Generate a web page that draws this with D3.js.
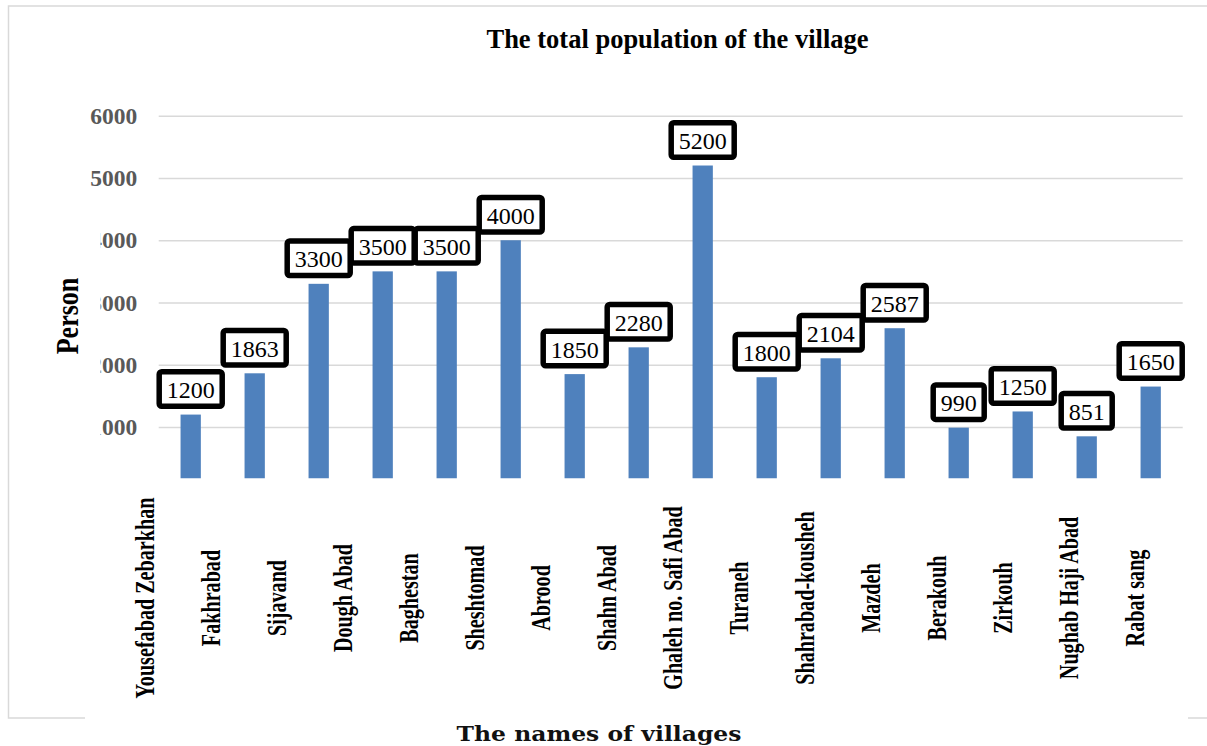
<!DOCTYPE html>
<html>
<head>
<meta charset="utf-8">
<script src="https://cdn.jsdelivr.net/npm/d3@7"></script>
<style>
  html, body { margin: 0; padding: 0; background: #ffffff; }
  svg { display: block; }
</style>
</head>
<body>
<div id="chart"></div>
<script>
// ---- data ----
const villages = [
  "Yousefabad Zebarkhan", "Fakhrabad", "Sijavand", "Dough Abad", "Baghestan",
  "Sheshtomad", "Abrood", "Shahn Abad", "Ghaleh no. Safi Abad", "Turaneh",
  "Shahrabad-kousheh", "Mazdeh", "Berakouh", "Zirkouh", "Nughab Haji Abad", "Rabat sang"
];
const population = [1200, 1863, 3300, 3500, 3500, 4000, 1850, 2280, 5200, 1800, 2104, 2587, 990, 1250, 851, 1650];
const yTicks = [1000, 2000, 3000, 4000, 5000, 6000];
const chartTitle = "The total population of the village";
const xTitle = "The names of villages";
const yTitle = "Person";

// ---- layout ----
const W = 1207, H = 746;
const plotLeft = 158.7, plotRight = 1182.7;
const yZero = 489.3, yMaxPx = 115.7, plotBottom = 478.3;
const serif = "'Liberation Serif', 'Times New Roman', serif";

const svg = d3.select("#chart").append("svg")
  .attr("width", W).attr("height", H)
  .style("background", "#ffffff");

// outer frame
svg.append("rect")
  .attr("x", 8.5).attr("y", 6).attr("width", 1215).attr("height", 712)
  .attr("fill", "none").attr("stroke", "#d9d9d9").attr("stroke-width", 1.5);

const x = d3.scaleBand().domain(villages).range([plotLeft, plotRight])
  .paddingInner(0.683).paddingOuter(0.3415);
const y = d3.scaleLinear().domain([0, 6000]).range([yZero, yMaxPx]);
const labelX = d3.scalePoint().domain(villages).range([144.3, 1134.3]);

// y axis with gridlines
const yAxis = svg.append("g")
  .attr("transform", `translate(${plotLeft},0)`)
  .call(d3.axisLeft(y).tickValues(yTicks).tickFormat(d3.format("d"))
    .tickSize(-(plotRight - plotLeft)).tickPadding(21.5));
yAxis.select(".domain").remove();
yAxis.selectAll(".tick line").attr("stroke", "#d9d9d9").attr("stroke-width", 1.6);
yAxis.selectAll(".tick text")
  .attr("fill", "#595959")
  .style("font-family", serif).style("font-weight", "bold").style("font-size", "23.5px");

// white patch hiding the first digit of lower tick labels (as in reference)
svg.append("rect").attr("x", 85).attr("y", 222).attr("width", 15.5).attr("height", 222)
  .attr("fill", "#ffffff");

// bars (clipped at plot bottom)
svg.append("clipPath").attr("id", "plotclip").append("rect")
  .attr("x", 0).attr("y", 0).attr("width", W).attr("height", plotBottom);
svg.append("g").attr("clip-path", "url(#plotclip)")
  .selectAll("rect").data(villages).join("rect")
  .attr("x", d => x(d))
  .attr("width", x.bandwidth())
  .attr("y", (d, i) => y(population[i]))
  .attr("height", (d, i) => yZero - y(population[i]))
  .attr("fill", "#4f81bd");

// data labels in boxed callouts
const sw = 5.5, padX = 7.5, boxH = 34.5, gap = 8.25;
const lab = svg.append("g");
villages.forEach((v, i) => {
  const cx = x(v) + x.bandwidth() / 2;
  const top = y(population[i]);
  const g = lab.append("g");
  const rect = g.append("rect");
  const t = g.append("text")
    .attr("x", cx).attr("y", top - gap - boxH / 2 + 1)
    .attr("text-anchor", "middle").attr("dominant-baseline", "central")
    .style("font-family", serif).style("font-size", "24px").attr("fill", "#000")
    .text(population[i]);
  const tw = t.node().getComputedTextLength();
  const bw = tw + 2 * padX;
  rect.attr("x", cx - bw / 2).attr("y", top - gap - boxH)
    .attr("width", bw).attr("height", boxH)
    .attr("rx", 2.5).attr("ry", 2.5)
    .attr("fill", "#ffffff").attr("stroke", "#000").attr("stroke-width", sw);
});

// category labels (rotated)
svg.append("g").selectAll("text").data(villages).join("text")
  .attr("transform", d => `translate(${labelX(d) + 9.5},598) rotate(-90) scale(0.72,1)`)
  .attr("text-anchor", "middle")
  .style("font-family", serif).style("font-weight", "bold").style("font-size", "28px")
  .attr("fill", "#000")
  .text(d => d);

// title
svg.append("text")
  .attr("x", 677.5).attr("y", 48.3).attr("text-anchor", "middle")
  .style("font-family", serif).style("font-weight", "bold").style("font-size", "26.5px")
  .attr("fill", "#000").text(chartTitle);

// y title
svg.append("text")
  .attr("transform", "translate(78,316) rotate(-90) scale(0.84,1)")
  .attr("text-anchor", "middle")
  .style("font-family", serif).style("font-weight", "bold").style("font-size", "31px")
  .attr("fill", "#000").text(yTitle);

// white patch over bottom frame (as in reference) then x title
svg.append("rect").attr("x", 85).attr("y", 708).attr("width", 1103).attr("height", 38)
  .attr("fill", "#ffffff");
const xt = svg.append("text")
  .attr("text-anchor", "middle")
  .style("font-family", "'DejaVu Serif', serif").style("font-weight", "bold").style("font-size", "20.5px")
  .attr("fill", "#111").text(xTitle);
const xtw = xt.node().getComputedTextLength();
xt.attr("transform", `translate(599,741) scale(${285 / xtw},1)`);
</script>
</body>
</html>
